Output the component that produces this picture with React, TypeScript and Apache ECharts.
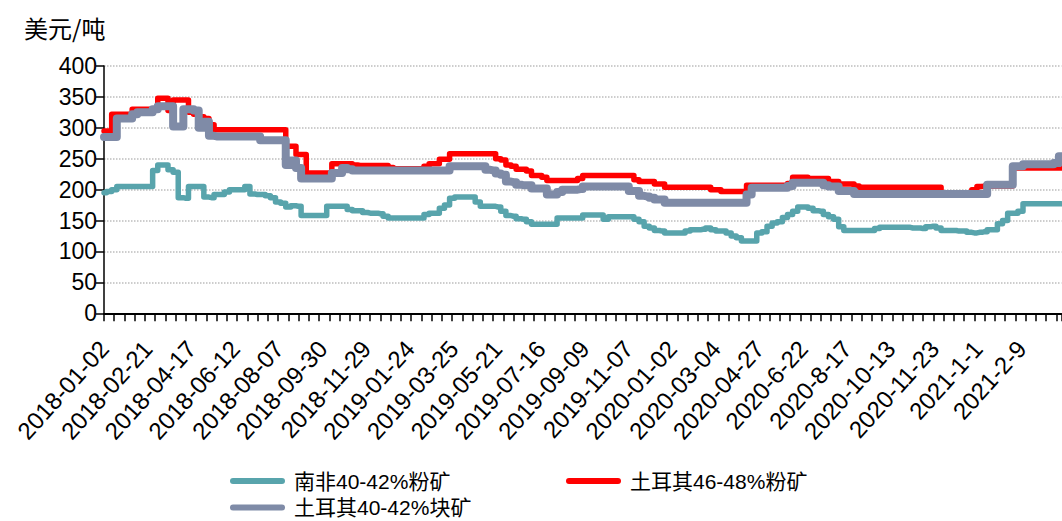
import React, { useEffect, useRef } from "react";
import * as echarts from "echarts";

// x-axis tick labels (one every LABEL_STEP samples)
const tickLabels = [
  "2018-01-02", "2018-02-21", "2018-04-17", "2018-06-12", "2018-08-07", "2018-09-30",
  "2018-11-29", "2019-01-24", "2019-03-25", "2019-05-21", "2019-07-16", "2019-09-09",
  "2019-11-07", "2020-01-02", "2020-03-04", "2020-04-27", "2020-6-22", "2020-8-17",
  "2020-10-13", "2020-11-23", "2021-1-1", "2021-2-9",
];

const seriesNames = ["南非40-42%粉矿", "土耳其46-48%粉矿", "土耳其40-42%块矿"];

// 南非40-42%粉矿 (USD/t), sampled along the axis
const southAfrica = [
  195, 197, 200, 205, 205, 205, 205, 205, 205, 205,
  231, 240, 240, 232, 228, 187, 186, 205, 205, 205,
  188, 187, 192, 192, 196, 200, 200, 200, 205, 193,
  192, 192, 190, 187, 180, 178, 172, 174, 173, 158,
  158, 158, 158, 158, 173, 173, 173, 173, 168, 166,
  166, 163, 162, 162, 161, 157, 154, 154, 154, 154,
  154, 154, 154, 160, 162, 162, 170, 175, 186, 188,
  188, 188, 188, 180, 173, 173, 173, 172, 165, 158,
  157, 153, 152, 148, 144, 144, 144, 144, 144, 154,
  154, 154, 154, 154, 159, 159, 159, 159, 152, 156,
  156, 156, 156, 156, 152, 148, 141, 138, 134, 133,
  130, 130, 130, 130, 133, 135, 135, 136, 138, 135,
  133, 133, 130, 125, 122, 117, 117, 117, 130, 132,
  141, 146, 148, 155, 160, 165, 172, 172, 170, 166,
  165, 160, 156, 152, 140, 134, 134, 134, 134, 134,
  134, 137, 139, 139, 139, 139, 139, 139, 138, 138,
  137, 140, 141, 138, 134, 134, 134, 133, 133, 131,
  130, 131, 132, 135, 135, 145, 150, 162, 162, 165,
  177, 177, 177, 177, 177, 177, 177, 177,
];

// 土耳其46-48%粉矿
const turkeyFines = [
  295, 295, 322, 322, 322, 322, 330, 330, 330, 330,
  330, 348, 348, 328, 345, 345, 345, 325, 322, 318,
  315, 305, 297, 297, 297, 297, 297, 297, 297, 297,
  297, 297, 297, 297, 297, 297, 270, 270, 257, 257,
  227, 227, 227, 227, 227, 242, 242, 242, 242, 240,
  239, 239, 239, 239, 239, 239, 236, 234, 234, 234,
  234, 234, 234, 238, 242, 242, 249, 249, 258, 258,
  258, 258, 258, 258, 258, 258, 258, 250, 248, 240,
  238, 233, 233, 230, 223, 223, 220, 215, 215, 215,
  215, 215, 215, 218, 223, 223, 223, 223, 223, 223,
  223, 223, 223, 223, 216, 213, 213, 213, 209, 209,
  204, 204, 204, 204, 204, 204, 204, 204, 204, 200,
  200, 197, 197, 197, 197, 197, 207, 207, 207, 207,
  207, 207, 207, 207, 210, 220, 220, 220, 218, 218,
  218, 218, 213, 213, 209, 209, 209, 206, 204, 204,
  204, 204, 204, 204, 204, 204, 204, 204, 204, 204,
  204, 204, 204, 204, 195, 194, 194, 194, 194, 194,
  200, 205, 206, 206, 206, 206, 206, 206, 235, 235,
  235, 235, 235, 235, 235, 235, 235, 235,
];

// 土耳其40-42%块矿
const turkeyLump = [
  285, 285, 285, 315, 315, 315, 322, 325, 325, 325,
  330, 335, 335, 335, 302, 302, 330, 330, 328, 300,
  310, 287, 286, 286, 286, 286, 286, 286, 286, 286,
  286, 280, 280, 280, 280, 280, 240, 247, 235, 218,
  218, 218, 218, 218, 218, 227, 227, 235, 233, 231,
  231, 231, 231, 231, 231, 231, 231, 231, 231, 231,
  231, 231, 231, 231, 231, 231, 231, 231, 238, 238,
  238, 238, 238, 238, 238, 232, 231, 226, 224, 213,
  212, 208, 207, 207, 202, 202, 202, 192, 192, 196,
  200, 200, 200, 201, 205, 205, 205, 205, 205, 205,
  205, 205, 205, 198, 198, 190, 189, 187, 184, 184,
  179, 179, 179, 179, 179, 179, 179, 179, 179, 179,
  179, 179, 179, 179, 179, 179, 192, 203, 203, 203,
  203, 203, 203, 203, 206, 211, 211, 211, 211, 211,
  211, 207, 205, 205, 198, 198, 198, 193, 193, 193,
  193, 193, 193, 193, 193, 193, 193, 193, 193, 193,
  193, 193, 193, 193, 193, 193, 193, 193, 193, 193,
  193, 193, 193, 208, 208, 208, 208, 208, 238, 238,
  241, 241, 241, 241, 241, 241, 243, 254,
];

const LABEL_STEP = 8.535; // samples between date labels
const TICK_STEP = 2; // samples between tick marks
const LAST = southAfrica.length - 1;

const capsule = "path://M3,0 L52,0 A3,3 0 0 1 52,6 L3,6 A3,3 0 0 1 3,0 Z";

export default function App() {
  const ref = useRef<HTMLDivElement>(null);

  useEffect(() => {
    if (!ref.current) return;
    const chart = echarts.init(ref.current, undefined, { renderer: "svg" });

    const legendCommon = {
      orient: "horizontal",
      padding: 0,
      itemWidth: 55,
      itemHeight: 7,
      icon: capsule,
      selectedMode: false,
      textStyle: {
        fontSize: 21,
        lineHeight: 24,
        fontFamily: "'Liberation Sans', 'Noto Sans CJK SC'",
        color: "#000",
        padding: [0, 0, 0, 4],
      },
    };

    const toPairs = (arr: number[]) => arr.map((v, i) => [i, v]);

    chart.setOption({
      animation: false,
      backgroundColor: "#fff",
      grid: { left: 104, top: 66, right: 0.6, bottom: 207.7, containLabel: false },
      graphic: [
        {
          type: "text",
          left: 24,
          top: 15,
          style: {
            text: "美元/吨",
            fontSize: 24,
            fontFamily: "Noto Sans CJK SC",
            fill: "#000",
          },
        },
      ],
      legend: [
        { ...legendCommon, data: [seriesNames[0]], left: 230, top: 469 },
        { ...legendCommon, data: [seriesNames[1]], left: 566, top: 469 },
        { ...legendCommon, data: [seriesNames[2]], left: 230, top: 495.5 },
      ],
      xAxis: [
        {
          type: "value",
          position: "bottom",
          min: 0,
          max: LAST,
          interval: LABEL_STEP,
          axisLine: { show: true, onZero: false, lineStyle: { color: "#000", width: 2 } },
          axisTick: { show: false },
          splitLine: { show: false },
          axisLabel: {
            rotate: 48,
            margin: 31,
            fontSize: 24,
            fontFamily: "Liberation Sans",
            color: "#000",
            showMaxLabel: false,
            formatter: (v: number) => {
              const k = Math.round(v / LABEL_STEP);
              return Math.abs(k * LABEL_STEP - v) < 0.01 && tickLabels[k] ? tickLabels[k] : "";
            },
          },
        },
        {
          type: "value",
          position: "bottom",
          min: 0,
          max: LAST,
          interval: TICK_STEP,
          axisLine: { show: false },
          axisLabel: { show: false },
          splitLine: { show: false },
          axisTick: { show: true, length: 8, lineStyle: { color: "#000", width: 1.5 } },
        },
      ],
      yAxis: {
        type: "value",
        min: 0,
        max: 400,
        interval: 50,
        axisLine: { show: true, lineStyle: { color: "#000", width: 1.5 } },
        axisTick: { show: true, length: 8, lineStyle: { color: "#000", width: 1.5 } },
        axisLabel: {
          fontSize: 23,
          fontFamily: "Liberation Sans",
          color: "#000",
          margin: 7,
        },
        splitLine: {
          show: true,
          lineStyle: { type: "dotted", color: "#BDBDBD", width: 1.5 },
        },
      },
      series: [
        {
          name: seriesNames[0],
          type: "line",
          xAxisIndex: 0,
          step: "middle",
          showSymbol: false,
          data: toPairs(southAfrica),
          color: "#58A4AC",
          lineStyle: { width: 5.5, color: "#58A4AC", cap: "round", join: "round" },
        },
        {
          name: seriesNames[1],
          type: "line",
          xAxisIndex: 0,
          step: "middle",
          showSymbol: false,
          data: toPairs(turkeyFines),
          color: "#FF0000",
          lineStyle: { width: 5.5, color: "#FF0000", cap: "round", join: "round" },
        },
        {
          name: seriesNames[2],
          type: "line",
          xAxisIndex: 0,
          step: "middle",
          showSymbol: false,
          data: toPairs(turkeyLump),
          color: "#7F8BA7",
          lineStyle: { width: 8, color: "#7F8BA7", cap: "round", join: "round" },
        },
      ],
    });

    return () => chart.dispose();
  }, []);

  return (
    <div
      ref={ref}
      style={{ position: "absolute", left: 0, top: 0, width: 1062, height: 521 }}
    />
  );
}
